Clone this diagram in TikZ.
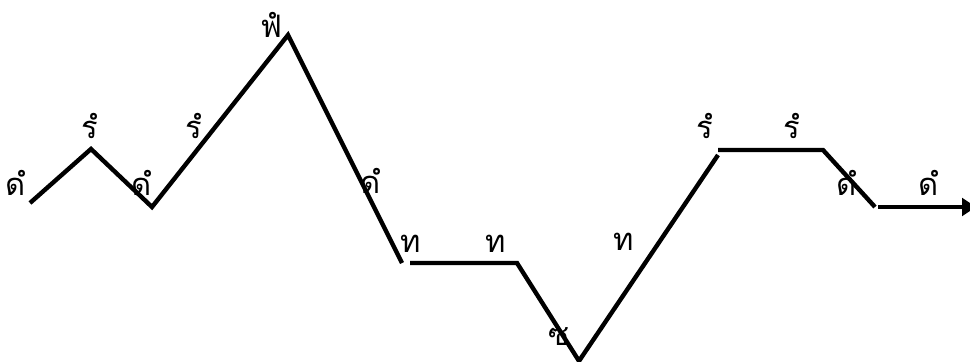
\documentclass[tikz,border=0pt]{standalone}
\usepackage{fontspec}
\newfontfamily\thaifont[Script=Thai]{Loma}
\usetikzlibrary{arrows.meta}

\begin{document}
\begin{tikzpicture}[
    x=0.025cm, y=-0.025cm,
    melody/.style={-, line width=0.11cm, black},
    note/.style={anchor=base, inner sep=0pt, font=\thaifont\fontsize{22}{26}\selectfont}
]
\useasboundingbox (0,0) rectangle (970,361);

% --- contour points ---
\coordinate (P0) at (30,203);
\coordinate (P1) at (91,149);
\coordinate (P2) at (152,207);
\coordinate (P3) at (288,35);
\coordinate (P4) at (402,263);
\coordinate (Q0) at (410,263);
\coordinate (Q1) at (517,263);
\coordinate (Q2) at (579,361);
\coordinate (Q3) at (718,155);
\coordinate (R0) at (718,150);
\coordinate (R1) at (823,150);
\coordinate (R2) at (875,207);
\coordinate (S0) at (878,207);
\coordinate (S1) at (976,207);

% --- note names ---
\node[note] (N1) at (16,195) {ดํ};
\node[note] (N2) at (90,138) {รํ};
\node[note] (N3) at (142,195) {ดํ};
\node[note] (N4) at (194,138) {รํ};
\node[note] (N5) at (271,38) {ฟํ};
\node[note] (N6) at (371,193) {ดํ};
\node[note] (N7) at (411,252) {ท};
\node[note] (N8) at (496,252) {ท};
\node[note] (N9) at (559,345) {ซ};
\node[note] (N10) at (624,250) {ท};
\node[note] (N11) at (705,138) {รํ};
\node[note] (N12) at (792,138) {รํ};
\node[note] (N13) at (847,195) {ดํ};
\node[note] (N14) at (929,195) {ดํ};

\draw[melody] (P0) -- (P1) -- (P2) -- (P3) -- (P4);
\draw[melody] (Q0) -- (Q1) -- (Q2) -- (Q3);
\draw[melody] (R0) -- (R1) -- (R2);
\draw[melody, -{Triangle[width=0.44cm, length=0.35cm]}] (S0) -- (S1);

\end{tikzpicture}
\end{document}
